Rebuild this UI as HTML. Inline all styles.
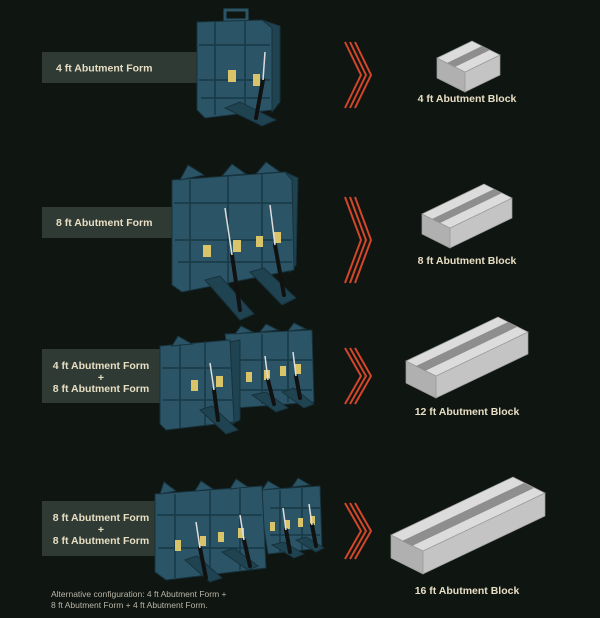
<!DOCTYPE html>
<html><head><meta charset="utf-8"><style>
html,body{margin:0;padding:0;background:#0f1511;}
svg{display:block}
text{font-family:"Liberation Sans",sans-serif;fill:#e8dec4;font-weight:bold;font-size:10.5px}
.f{fill:#2b5566;stroke:#17323d;stroke-width:1}
.s{fill:#1f4350;stroke:#17323d;stroke-width:1}
.r{stroke:#183845;stroke-width:1.5;fill:none}
.y{fill:#d9c46a}
.c{stroke:#111;stroke-width:4;stroke-linecap:round}
.w{stroke:#ddd;stroke-width:1.5}
.ch{fill:none;stroke:#d2462a;stroke-width:2}
.bt{fill:#dcdcdc;stroke:#999;stroke-width:.7}
.bf{fill:#c4c4c4;stroke:#999;stroke-width:.7}
.be{fill:#b0b0b0;stroke:#999;stroke-width:.7}
.g{fill:#8e8e8e}
</style></head><body>
<svg width="600" height="618" viewBox="0 0 600 618">
<rect width="600" height="618" fill="#0f1511"/>
<!-- label boxes -->
<rect x="42" y="52" width="158" height="31" fill="#2e3a33"/>
<text x="56" y="71.5">4 ft Abutment Form</text>
<rect x="42" y="207" width="132" height="31" fill="#2e3a33"/>
<text x="56" y="226">8 ft Abutment Form</text>
<rect x="42" y="349" width="122" height="54" fill="#2e3a33"/>
<text x="101" y="369" text-anchor="middle">4 ft Abutment Form</text>
<text x="101" y="381" text-anchor="middle">+</text>
<text x="101" y="392" text-anchor="middle">8 ft Abutment Form</text>
<rect x="42" y="501" width="118" height="55" fill="#2e3a33"/>
<text x="101" y="521" text-anchor="middle">8 ft Abutment Form</text>
<text x="101" y="533" text-anchor="middle">+</text>
<text x="101" y="544" text-anchor="middle">8 ft Abutment Form</text>
<text x="51" y="597" style="font-weight:normal;font-size:8.5px;fill:#b9b5a6">Alternative configuration: 4 ft Abutment Form +</text>
<text x="51" y="608" style="font-weight:normal;font-size:8.5px;fill:#b9b5a6">8 ft Abutment Form + 4 ft Abutment Form.</text>

<!-- Form 1 -->
<g>
<rect x="225" y="10" width="22" height="10" fill="none" stroke="#2b5566" stroke-width="3"/>
<polygon class="s" points="262,20 280,26 280,102 272,112"/>
<polygon class="f" points="197,22 262,20 272,28 272,110 205,118 197,110"/>
<path class="r" d="M199 45H270M199 80H270M201 98H270M215 22V115M245 21V112"/>
<polygon class="s" points="225,108 262,126 276,120 240,102"/>
<rect class="y" x="228" y="70" width="8" height="12"/>
<rect class="y" x="253" y="74" width="7" height="12"/>
<line class="c" x1="263" y1="80" x2="256" y2="118"/><line class="w" x1="265" y1="52" x2="263" y2="80"/>
</g>
<!-- Form 2 -->
<g>
<polygon class="s" points="285,172 298,178 296,265 290,272"/>
<polygon class="f" points="172,180 285,172 292,180 294,270 182,292 172,285"/>
<path class="f" d="M180 180l8-15 16 10zM222 176l10-12 14 10zM256 174l10-12 14 10z"/>
<path class="r" d="M174 203H292M175 240H292M178 262H292M190 180V290M228 176V285M262 174V278"/>
<polygon class="s" points="205,280 240,320 254,314 220,276"/>
<polygon class="s" points="250,272 282,305 296,298 264,268"/>
<rect class="y" x="203" y="245" width="8" height="12"/><rect class="y" x="233" y="240" width="8" height="12"/>
<rect class="y" x="256" y="236" width="7" height="11"/><rect class="y" x="274" y="232" width="7" height="11"/>
<line class="c" x1="232" y1="255" x2="240" y2="310"/><line class="w" x1="225" y1="208" x2="232" y2="255"/>
<line class="c" x1="275" y1="245" x2="284" y2="295"/><line class="w" x1="270" y1="205" x2="275" y2="245"/>
</g>
<!-- Form 3 -->
<g>
<polygon class="f" points="225,334 312,330 314,402 236,408"/>
<path class="f" d="M235 334l6-8 12 6zM260 332l6-8 12 6zM288 331l6-8 12 6z"/>
<polygon class="s" points="230,342 240,340 240,420 232,424"/>
<polygon class="f" points="160,346 230,340 234,422 166,430 160,424"/>
<path class="f" d="M172 346l6-10 14 8z"/>
<path class="r" d="M162 368H232M163 400H232M240 360H312M240 390H312M180 344V428M205 342V425M262 334V404M288 331V402"/>
<polygon class="s" points="200,410 226,434 238,430 212,406"/>
<polygon class="s" points="252,395 276,412 288,408 266,392"/>
<polygon class="s" points="282,392 304,408 314,404 294,388"/>
<rect class="y" x="191" y="380" width="7" height="11"/><rect class="y" x="216" y="376" width="7" height="11"/>
<rect class="y" x="246" y="372" width="6" height="10"/><rect class="y" x="264" y="370" width="6" height="10"/>
<rect class="y" x="280" y="366" width="6" height="10"/><rect class="y" x="295" y="364" width="6" height="10"/>
<line class="c" x1="214" y1="390" x2="218" y2="420"/><line class="w" x1="210" y1="363" x2="214" y2="390"/>
<line class="c" x1="268" y1="380" x2="274" y2="404"/><line class="w" x1="265" y1="356" x2="268" y2="380"/>
<line class="c" x1="296" y1="376" x2="300" y2="398"/><line class="w" x1="293" y1="352" x2="296" y2="376"/>
</g>
<!-- Form 4 -->
<g>
<polygon class="f" points="258,490 320,486 322,548 268,554"/>
<path class="f" d="M262 490l6-9 12 7zM292 487l6-9 12 7z"/>
<polygon class="f" points="155,494 262,486 266,568 166,580 155,572"/>
<path class="f" d="M160 494l4-12 12 9zM195 491l6-10 12 8zM230 489l6-10 12 8z"/>
<path class="r" d="M157 515H262M158 548H264M270 508H320M270 535H320M175 494V578M210 491V575M240 489V570M280 490V552M302 488V550"/>
<polygon class="s" points="185,560 210,582 222,578 197,556"/>
<polygon class="s" points="222,552 248,570 258,566 234,548"/>
<polygon class="s" points="272,545 294,558 304,554 284,542"/>
<polygon class="s" points="296,540 316,552 324,548 306,537"/>
<rect class="y" x="175" y="540" width="6" height="11"/><rect class="y" x="200" y="536" width="6" height="10"/>
<rect class="y" x="218" y="532" width="6" height="10"/><rect class="y" x="238" y="528" width="6" height="10"/>
<rect class="y" x="270" y="522" width="5" height="9"/><rect class="y" x="285" y="520" width="5" height="9"/>
<rect class="y" x="298" y="518" width="5" height="9"/><rect class="y" x="310" y="516" width="5" height="9"/>
<line class="c" x1="200" y1="548" x2="206" y2="578"/><line class="w" x1="196" y1="522" x2="200" y2="548"/>
<line class="c" x1="244" y1="540" x2="250" y2="566"/><line class="w" x1="240" y1="515" x2="244" y2="540"/>
<line class="c" x1="286" y1="530" x2="290" y2="552"/><line class="w" x1="283" y1="508" x2="286" y2="530"/>
<line class="c" x1="312" y1="525" x2="316" y2="546"/><line class="w" x1="309" y1="504" x2="312" y2="525"/>
</g>

<!-- chevrons -->
<g class="ch">
<path d="M345 42L361 75L345 108M350 42L366 75L350 108M355 42L371 75L355 108"/>
<path d="M345 197L361 240L345 283M350 197L366 240L350 283M355 197L371 240L355 283"/>
<path d="M345 348L361 376L345 404M350 348L366 376L350 404M355 348L371 376L355 404"/>
<path d="M345 503L361 531L345 559M350 503L366 531L350 559M355 503L371 531L355 559"/>
</g>

<!-- Blocks -->
<g>
<polygon class="be" points="437,58 465,72 465,92 437,78"/>
<polygon class="bf" points="465,72 500,55 500,75 465,92"/>
<polygon class="bt" points="437,58 472,41 500,55 465,72"/>
<polygon class="g" points="447,63 482,46 490,50 455,67"/>
<text x="467" y="102" text-anchor="middle">4 ft Abutment Block</text>
</g>
<g>
<polygon class="be" points="422,214 450,228 450,248 422,234"/>
<polygon class="bf" points="450,228 512,198 512,218 450,248"/>
<polygon class="bt" points="422,214 484,184 512,198 450,228"/>
<polygon class="g" points="432,219 494,189 502,193 440,223"/>
<text x="467" y="264" text-anchor="middle">8 ft Abutment Block</text>
</g>
<g>
<polygon class="be" points="406,361 436,376 436,398 406,383"/>
<polygon class="bf" points="436,376 528,332 528,354 436,398"/>
<polygon class="bt" points="406,361 498,317 528,332 436,376"/>
<polygon class="g" points="416,366 508,322 517,327 425,371"/>
<text x="467" y="415" text-anchor="middle">12 ft Abutment Block</text>
</g>
<g>
<polygon class="be" points="391,535 423,551 423,574 391,558"/>
<polygon class="bf" points="423,551 545,493 545,516 423,574"/>
<polygon class="bt" points="391,535 513,477 545,493 423,551"/>
<polygon class="g" points="402,541 524,483 534,488 412,546"/>
<text x="467" y="594" text-anchor="middle">16 ft Abutment Block</text>
</g>
</svg>
</body></html>
